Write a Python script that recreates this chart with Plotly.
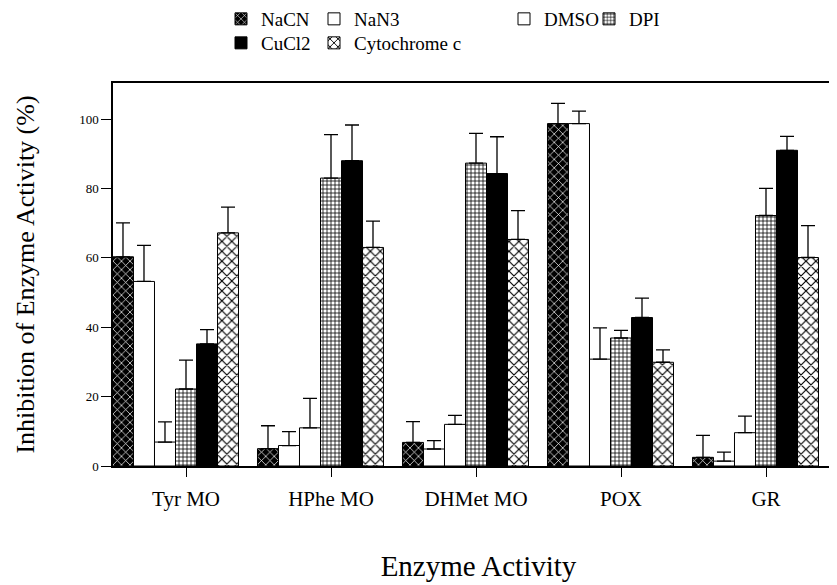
import plotly.graph_objects as go

categories = ["Tyr MO", "HPhe MO", "DHMet MO", "POX", "GR"]

nacn = [60.3, 5.0, 6.8, 98.7, 2.5]
nacn_err = [9.8, 6.6, 6.0, 5.8, 6.3]
nan3 = [53.2, 5.9, 4.9, 98.7, 1.4]
nan3_err = [10.4, 4.0, 2.4, 3.6, 2.6]
dmso = [6.9, 11.0, 12.0, 30.8, 9.6]
dmso_err = [5.8, 8.5, 2.6, 9.0, 4.8]
dpi = [22.2, 83.0, 87.3, 36.9, 72.2]
dpi_err = [8.3, 12.5, 8.6, 2.2, 7.8]
cucl2 = [35.2, 88.0, 84.3, 42.8, 91.0]
cucl2_err = [4.1, 10.3, 10.6, 5.6, 4.0]
cyto = [67.2, 63.0, 65.3, 29.9, 60.1]
cyto_err = [7.4, 7.6, 8.3, 3.6, 9.2]

yticks = [0, 20, 40, 60, 80, 100]

FONT = "Liberation Serif"

series = [
    ("NaCN", nacn, nacn_err, "black",
     dict(shape="x", bgcolor="black", fgcolor="white", size=6, solidity=0.22, fillmode="replace")),
    ("NaN3", nan3, nan3_err, "white", None),
    ("DMSO", dmso, dmso_err, "white", None),
    ("DPI", dpi, dpi_err, "white",
     dict(shape="+", bgcolor="white", fgcolor="black", size=4, solidity=0.35, fillmode="replace")),
    ("CuCl2", cucl2, cucl2_err, "black", None),
    ("Cytochrome c", cyto, cyto_err, "white",
     dict(shape="x", bgcolor="white", fgcolor="black", size=7, solidity=0.3, fillmode="replace")),
]

# legend entry placement: (left px, row centre px)
legend_places = [(213, 11), (306, 11), (496, 11), (581, 11), (213, 35), (306, 35)]

xpos = list(range(len(categories)))

# plot area geometry (px)
L, R, T, B = 105, 1, 75, 127
H = 585 - T - B
W = 837 - L - R


def px_x(p):
    return (p - L) / W


def px_y(p):
    return 1 + (T - p) / H


fig = go.Figure()
legend_layout = {}
for i, (name, vals, errs, color, pattern) in enumerate(series):
    leg = "legend" if i == 0 else f"legend{i + 1}"
    marker = dict(color=color, line=dict(color="black", width=1))
    if pattern is not None:
        marker["pattern"] = pattern
    fig.add_bar(
        x=xpos, y=vals, name=name, marker=marker, legend=leg, showlegend=True,
        error_y=dict(type="data", symmetric=False, array=errs,
                     arrayminus=[0] * len(errs), color="black",
                     thickness=1.3, width=7),
    )
    lx, ly = legend_places[i]
    legend_layout[leg] = dict(
        x=px_x(lx), y=px_y(ly), xanchor="left", yanchor="middle",
        orientation="h", bgcolor="rgba(0,0,0,0)", borderwidth=0, visible=True,
        font=dict(family=FONT, size=19, color="black"), itemwidth=30)

bar_unit = (1 - 0.131) / 6
tickpos = [x + bar_unit / 2 for x in xpos]

fig.update_layout(
    width=837, height=585, autosize=False, showlegend=True,
    margin=dict(l=L, r=R, t=T, b=B, autoexpand=False),
    paper_bgcolor="white", plot_bgcolor="white",
    barmode="group", bargap=0.131, bargroupgap=0,
    font=dict(family=FONT, color="black"),
    xaxis=dict(
        range=[-0.431, -0.431 + W / 145.0], tickmode="array", tickvals=tickpos,
        ticktext=categories, ticks="outside", ticklen=9, tickwidth=1,
        tickcolor="black", showline=True, linecolor="black", linewidth=1.5,
        mirror=True, showgrid=False, zeroline=False, ticklabelstandoff=4,
        tickfont=dict(family=FONT, size=21, color="black"),
        title=dict(text="Enzyme Activity", standoff=46,
                   font=dict(family=FONT, size=29, color="black")),
    ),
    yaxis=dict(
        range=[0, 110.4], tickmode="array", tickvals=yticks,
        ticks="outside", ticklen=10, tickwidth=1, tickcolor="black",
        showline=True, linecolor="black", linewidth=1.5, showgrid=False,
        zeroline=False,
        tickfont=dict(family=FONT, size=13, color="black"),
        title=dict(text="Inhibition of Enzyme Activity (%)", standoff=37,
                   font=dict(family=FONT, size=26, color="black")),
    ),
    **legend_layout,
)

fig.write_html("out.html")
